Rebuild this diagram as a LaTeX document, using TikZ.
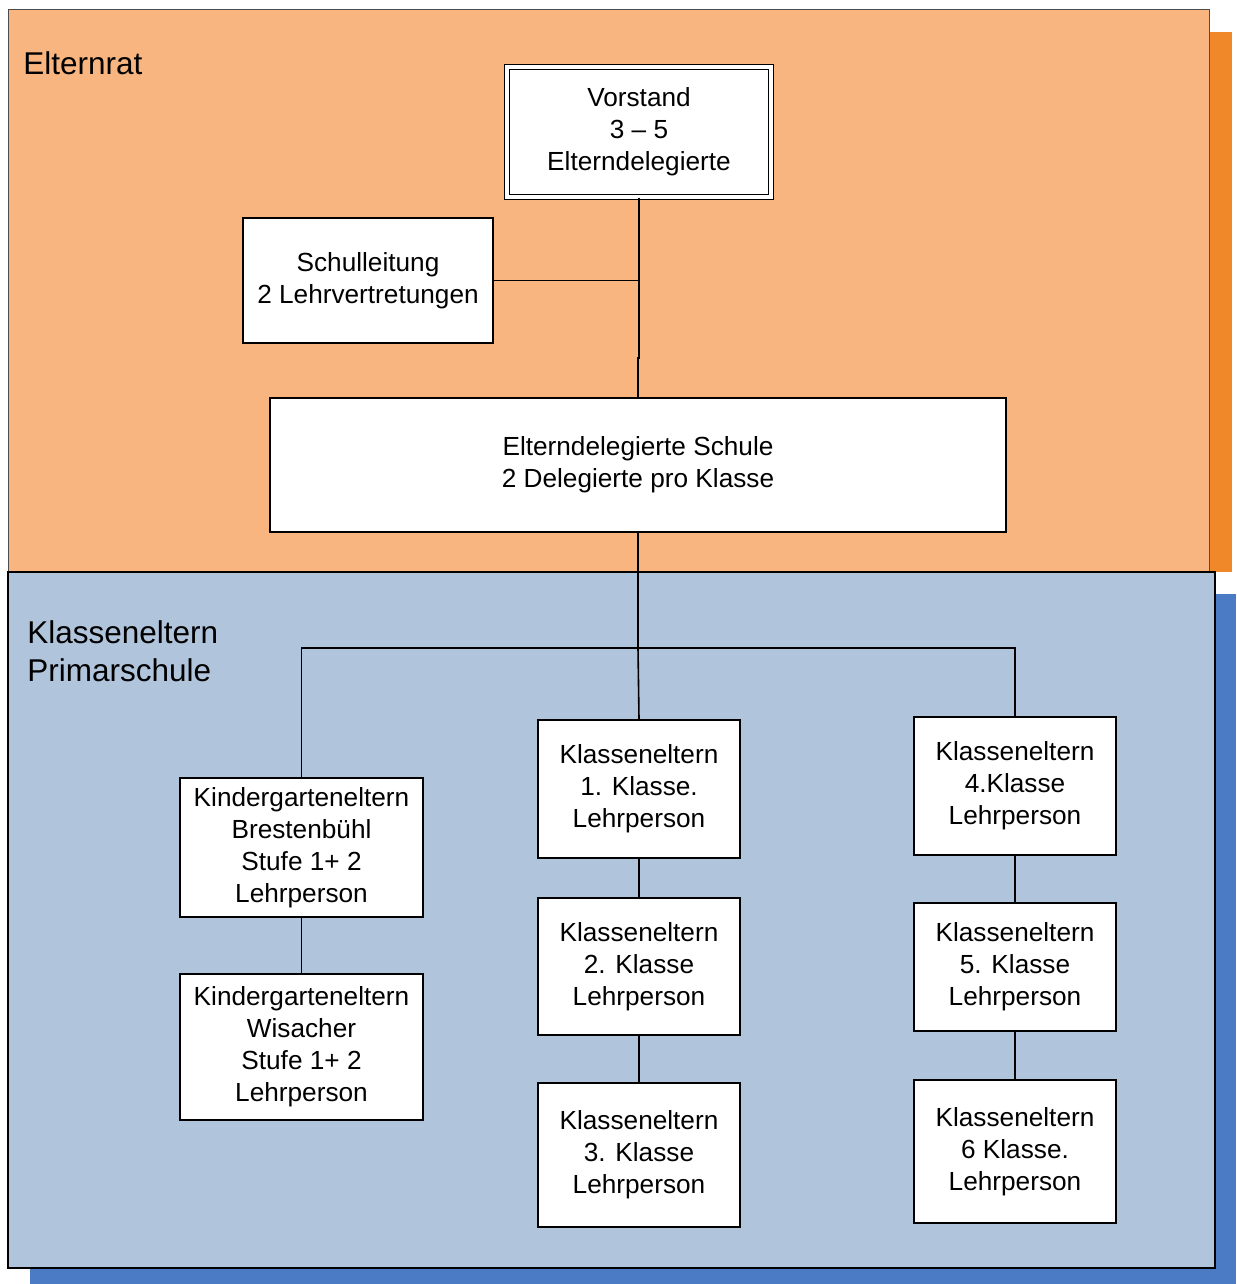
\documentclass[tikz,border=0pt]{standalone}
\usepackage{fontspec}
\setmainfont{Liberation Sans}
\definecolor{orpanel}{HTML}{F8B580}
\definecolor{orshadow}{HTML}{F0882A}
\definecolor{blpanel}{HTML}{B0C4DC}
\definecolor{blshadow}{HTML}{4A7BC4}
\begin{document}
\begin{tikzpicture}[x=0.5pt,y=-0.5pt,
  box/.style={draw=black, fill=white, line width=0.8pt, align=center, inner sep=0pt,
    font=\fontsize{13.1}{16}\selectfont},
  conn/.style={draw=black, line width=0.8pt},
  paneltitle/.style={anchor=west, align=left, inner sep=0pt, font=\fontsize{15.75}{19}\selectfont}]
\useasboundingbox (0,0) rectangle (1236,1284);
% orange panel with shadow
\fill[orshadow] (30,32) rectangle (1232,572);
\filldraw[fill=orpanel, draw=black!70, line width=0.5pt] (8,10) rectangle (1209,572);
% blue panel with shadow
\fill[blshadow] (30,594) rectangle (1236,1284);
\filldraw[fill=blpanel, draw=black, line width=0.6pt] (8,572) rectangle (1215,1268);

\node[paneltitle] (t1) at (23,63) {Elternrat};
\node[paneltitle] (t2) at (27,651) {Klasseneltern\\Primarschule};

\node[box, minimum width=132pt, minimum height=65pt, double, double distance=2pt, line width=0.6pt] (vor) at (639,132) {Vorstand\\3 – 5\\Elterndelegierte};
\node[box, minimum width=125pt, minimum height=62.5pt] (sl) at (368,280.5) {Schulleitung\\2 Lehrvertretungen};
\node[box, minimum width=368pt, minimum height=67pt] (eds) at (638,465) {Elterndelegierte Schule\\2 Delegierte pro Klasse};

\node[box, minimum width=121.5pt, minimum height=69.5pt] (kg1) at (301.5,847.5) {Kindergarteneltern\\Brestenbühl\\Stufe 1+ 2\\Lehrperson};
\node[box, minimum width=121.5pt, minimum height=73pt] (kg2) at (301.5,1047) {Kindergarteneltern\\Wisacher\\Stufe 1+ 2\\Lehrperson};

\node[box, minimum width=101pt, minimum height=69pt] (k1) at (639,789) {Klasseneltern\\1. Klasse.\\Lehrperson};
\node[box, minimum width=101pt, minimum height=68.5pt] (k2) at (639,966.5) {Klasseneltern\\2. Klasse\\Lehrperson};
\node[box, minimum width=101pt, minimum height=72pt] (k3) at (639,1155) {Klasseneltern\\3. Klasse\\Lehrperson};

\node[box, minimum width=101pt, minimum height=69pt] (k4) at (1015,786) {Klasseneltern\\4.Klasse\\Lehrperson};
\node[box, minimum width=101pt, minimum height=64pt] (k5) at (1015,967) {Klasseneltern\\5. Klasse\\Lehrperson};
\node[box, minimum width=101pt, minimum height=71.5pt] (k6) at (1015,1151.5) {Klasseneltern\\6 Klasse.\\Lehrperson};

% connectors
\coordinate (jog) at (639,358);
\coordinate (bus) at (638,648);
\draw[conn] (vor.south) -- (jog) -| (eds.north);
\draw[conn] (sl.east) -- (sl.east -| vor.south);
\draw[conn] (eds.south) -- (bus);
\draw[conn] (bus) -| (kg1.north);
\draw[conn] (bus) -| (k4.north);
\draw[conn] (bus) -- (k1.north);
\draw[conn] (kg1.south) -- (kg2.north);
\draw[conn] (k1.south) -- (k2.north);
\draw[conn] (k2.south) -- (k3.north);
\draw[conn] (k4.south) -- (k5.north);
\draw[conn] (k5.south) -- (k6.north);
\end{tikzpicture}
\end{document}
